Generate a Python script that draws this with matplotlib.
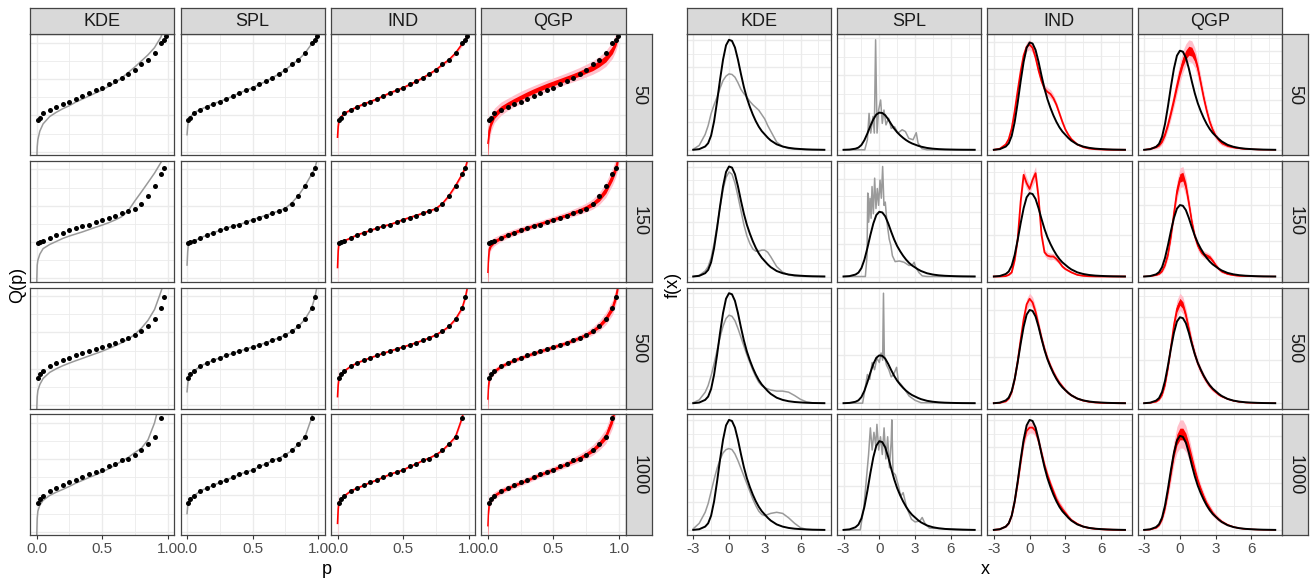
import matplotlib
matplotlib.use("Agg")
import matplotlib.pyplot as plt
from matplotlib.ticker import FixedLocator, MaxNLocator, AutoMinorLocator

plt.rcParams['font.family'] = ['Liberation Sans', 'DejaVu Sans']

ROWS = ['50', '150', '500', '1000']
METHODS = ['KDE', 'SPL', 'IND', 'QGP']

# ---------------- quantile panels (left) ----------------
P_DOTS = [0.01, 0.025, 0.05, 0.1, 0.15, 0.2, 0.25, 0.3, 0.35, 0.4, 0.45, 0.5,
          0.55, 0.6, 0.65, 0.7, 0.75, 0.8, 0.85, 0.9, 0.95, 0.975, 0.99]
P_LINE = [0.0, 0.005] + P_DOTS + [1.0]

DOT_Q_50 = [0.29, 0.31, 0.35, 0.375, 0.40, 0.427, 0.443, 0.463, 0.49, 0.517, 0.537, 0.556,
            0.586, 0.61, 0.642, 0.674, 0.708, 0.752, 0.79, 0.845, 0.925, 0.952, 0.982]
DOT_Q_150 = [0.322, 0.33, 0.336, 0.363, 0.391, 0.407, 0.426, 0.445, 0.462, 0.473, 0.494, 0.516,
             0.533, 0.549, 0.568, 0.587, 0.604, 0.645, 0.713, 0.795, 0.891, 0.94, 1.05]
DOT_Q_500 = [0.25, 0.285, 0.31, 0.35, 0.378, 0.4, 0.42, 0.44, 0.458, 0.476, 0.493, 0.51,
             0.527, 0.545, 0.565, 0.585, 0.61, 0.64, 0.68, 0.74, 0.83, 0.92, 1.05]
DOT_Q_1000 = [0.27, 0.303, 0.325, 0.366, 0.391, 0.413, 0.438, 0.457, 0.479, 0.507, 0.523, 0.54,
              0.57, 0.59, 0.623, 0.634, 0.667, 0.702, 0.758, 0.813, 0.972, 1.1, 1.25]

KDE_Q_50 = [-0.1, 0.07, 0.13, 0.2, 0.26, 0.32, 0.355, 0.385, 0.41, 0.44, 0.465, 0.49, 0.515,
            0.54, 0.57, 0.6, 0.64, 0.685, 0.73, 0.78, 0.83, 0.89, 0.98, 1.08, 1.15, 1.3]
KDE_Q_150 = [-0.05, 0.14, 0.18, 0.23, 0.276, 0.31, 0.335, 0.36, 0.38, 0.397, 0.414, 0.433, 0.452,
             0.47, 0.49, 0.513, 0.54, 0.59, 0.67, 0.745, 0.822, 0.9, 0.99, 1.04, 1.08, 1.15]
KDE_Q_500 = [-0.05, 0.1, 0.15, 0.2, 0.25, 0.3, 0.33, 0.355, 0.377, 0.397, 0.416, 0.436, 0.455,
             0.475, 0.497, 0.52, 0.545, 0.575, 0.615, 0.665, 0.73, 0.82, 0.97, 1.06, 1.12, 1.2]
KDE_Q_1000 = [-0.05, 0.14, 0.2, 0.25, 0.29, 0.33, 0.357, 0.38, 0.405, 0.432, 0.455, 0.478, 0.5,
              0.525, 0.55, 0.58, 0.615, 0.645, 0.685, 0.72, 0.79, 0.93, 1.15, 1.3, 1.4, 1.5]

SPL_Q_50 = [0.17, 0.24, 0.285, 0.315, 0.35, 0.378, 0.402, 0.425, 0.445, 0.465, 0.49, 0.515, 0.537,
            0.558, 0.585, 0.61, 0.64, 0.672, 0.706, 0.75, 0.79, 0.845, 0.92, 0.955, 0.985, 1.01]
SPL_Q_150 = [0.14, 0.25, 0.31, 0.33, 0.338, 0.362, 0.388, 0.407, 0.426, 0.445, 0.462, 0.475, 0.494,
             0.515, 0.533, 0.55, 0.568, 0.587, 0.61, 0.655, 0.715, 0.795, 0.89, 0.94, 1.0, 1.05]
SPL_Q_500 = [0.14, 0.2, 0.245, 0.285, 0.31, 0.35, 0.378, 0.4, 0.42, 0.44, 0.458, 0.476, 0.493,
             0.51, 0.527, 0.545, 0.565, 0.585, 0.61, 0.64, 0.68, 0.74, 0.83, 0.92, 1.0, 1.05]
SPL_Q_1000 = [0.18, 0.24, 0.27, 0.303, 0.325, 0.366, 0.391, 0.413, 0.438, 0.457, 0.48, 0.505, 0.523,
              0.54, 0.568, 0.59, 0.618, 0.638, 0.667, 0.702, 0.755, 0.815, 0.97, 1.1, 1.25, 1.35]

IND_Q_50 = [0.15, 0.24, 0.28, 0.315, 0.345, 0.375, 0.4, 0.424, 0.444, 0.465, 0.49, 0.516, 0.537,
            0.558, 0.585, 0.61, 0.64, 0.672, 0.706, 0.75, 0.79, 0.845, 0.92, 0.955, 0.985, 1.02]
IND_Q_150 = [0.12, 0.26, 0.315, 0.33, 0.34, 0.363, 0.39, 0.407, 0.426, 0.445, 0.462, 0.475, 0.494,
             0.515, 0.533, 0.55, 0.568, 0.587, 0.606, 0.648, 0.713, 0.795, 0.89, 0.945, 1.0, 1.06]
IND_Q_500 = [0.1, 0.2, 0.245, 0.285, 0.31, 0.35, 0.378, 0.4, 0.42, 0.44, 0.458, 0.476, 0.493,
             0.51, 0.527, 0.545, 0.565, 0.585, 0.61, 0.64, 0.68, 0.74, 0.83, 0.92, 1.0, 1.06]
IND_Q_1000 = [0.1, 0.22, 0.27, 0.303, 0.325, 0.366, 0.391, 0.413, 0.438, 0.457, 0.48, 0.505, 0.523,
              0.54, 0.568, 0.59, 0.618, 0.638, 0.667, 0.702, 0.755, 0.815, 0.97, 1.1, 1.25, 1.35]

# band half widths
IND_QW_50 = [0.3, 0.05, 0.025, 0.015, 0.012, 0.01, 0.01, 0.01, 0.01, 0.01, 0.01, 0.01, 0.01,
             0.01, 0.01, 0.01, 0.01, 0.01, 0.012, 0.012, 0.015, 0.015, 0.02, 0.02, 0.025, 0.03]
IND_QW_150 = [0.3, 0.05, 0.02, 0.012, 0.01, 0.008, 0.008, 0.008, 0.008, 0.008, 0.008, 0.008, 0.008,
              0.008, 0.008, 0.008, 0.008, 0.01, 0.01, 0.012, 0.014, 0.016, 0.02, 0.025, 0.03, 0.035]
IND_QW_500 = [0.3, 0.05, 0.02, 0.012, 0.008, 0.006, 0.006, 0.006, 0.006, 0.006, 0.006, 0.006, 0.006,
              0.006, 0.006, 0.006, 0.006, 0.007, 0.008, 0.01, 0.012, 0.015, 0.02, 0.025, 0.03, 0.035]
IND_QW_1000 = [0.3, 0.05, 0.02, 0.012, 0.008, 0.006, 0.006, 0.006, 0.006, 0.006, 0.006, 0.006, 0.006,
               0.006, 0.006, 0.006, 0.006, 0.007, 0.008, 0.01, 0.012, 0.016, 0.022, 0.028, 0.035, 0.04]

QGP_Q_50 = [0.1, 0.14, 0.2, 0.27, 0.33, 0.385, 0.42, 0.45, 0.478, 0.505, 0.53, 0.553, 0.575,
            0.595, 0.615, 0.635, 0.655, 0.676, 0.7, 0.725, 0.757, 0.8, 0.87, 0.93, 0.98, 1.05]
QGP_Q_150 = [0.08, 0.2, 0.27, 0.31, 0.335, 0.365, 0.39, 0.41, 0.43, 0.448, 0.466, 0.483, 0.5,
             0.518, 0.535, 0.553, 0.572, 0.592, 0.615, 0.645, 0.69, 0.76, 0.87, 0.94, 1.0, 1.1]
QGP_Q_500 = [0.08, 0.19, 0.24, 0.28, 0.31, 0.35, 0.377, 0.4, 0.42, 0.44, 0.458, 0.476, 0.493,
             0.51, 0.527, 0.545, 0.565, 0.587, 0.612, 0.643, 0.685, 0.745, 0.835, 0.92, 1.0, 1.08]
QGP_Q_1000 = [0.08, 0.2, 0.26, 0.3, 0.33, 0.365, 0.39, 0.413, 0.435, 0.457, 0.48, 0.503, 0.524,
              0.545, 0.568, 0.59, 0.615, 0.64, 0.67, 0.705, 0.755, 0.82, 0.96, 1.08, 1.2, 1.3]

QGP_QO_50 = [0.35, 0.1, 0.08, 0.07, 0.06, 0.055, 0.05, 0.05, 0.05, 0.048, 0.046, 0.045, 0.045,
             0.045, 0.045, 0.046, 0.048, 0.05, 0.052, 0.055, 0.06, 0.065, 0.07, 0.07, 0.07, 0.07]
QGP_QI_50 = [0.15, 0.05, 0.04, 0.03, 0.025, 0.022, 0.02, 0.02, 0.02, 0.02, 0.02, 0.02, 0.02,
             0.02, 0.02, 0.02, 0.02, 0.022, 0.022, 0.025, 0.025, 0.028, 0.03, 0.03, 0.03, 0.03]
QGP_QO_150 = [0.3, 0.08, 0.05, 0.04, 0.035, 0.03, 0.028, 0.027, 0.026, 0.025, 0.025, 0.025, 0.025,
              0.025, 0.026, 0.027, 0.03, 0.033, 0.037, 0.042, 0.05, 0.06, 0.07, 0.075, 0.08, 0.085]
QGP_QI_150 = [0.12, 0.04, 0.022, 0.018, 0.015, 0.013, 0.012, 0.012, 0.012, 0.011, 0.011, 0.011, 0.011,
              0.011, 0.012, 0.012, 0.013, 0.015, 0.017, 0.019, 0.022, 0.027, 0.032, 0.034, 0.036, 0.04]
QGP_QO_500 = [0.3, 0.07, 0.04, 0.03, 0.025, 0.022, 0.02, 0.02, 0.02, 0.02, 0.02, 0.02, 0.02,
              0.02, 0.02, 0.021, 0.022, 0.024, 0.027, 0.032, 0.04, 0.05, 0.06, 0.065, 0.07, 0.075]
QGP_QI_500 = [0.12, 0.03, 0.018, 0.014, 0.011, 0.01, 0.009, 0.009, 0.009, 0.009, 0.009, 0.009, 0.009,
              0.009, 0.009, 0.01, 0.01, 0.011, 0.012, 0.014, 0.018, 0.022, 0.027, 0.03, 0.032, 0.035]
QGP_QO_1000 = [0.3, 0.07, 0.045, 0.035, 0.03, 0.027, 0.025, 0.025, 0.025, 0.025, 0.025, 0.025, 0.025,
               0.025, 0.026, 0.027, 0.029, 0.032, 0.036, 0.042, 0.05, 0.06, 0.075, 0.085, 0.09, 0.1]
QGP_QI_1000 = [0.12, 0.03, 0.02, 0.015, 0.012, 0.011, 0.01, 0.01, 0.01, 0.01, 0.01, 0.01, 0.01,
               0.01, 0.011, 0.011, 0.012, 0.013, 0.015, 0.018, 0.021, 0.026, 0.033, 0.037, 0.04, 0.045]

# ---------------- density panels (right) ----------------
# heights relative to the peak of the true density
X_GRID = [-3, -2.5, -2, -1.75, -1.5, -1.25, -1, -0.75, -0.5, -0.25, 0, 0.25, 0.5, 0.75, 1, 1.25,
          1.5, 1.75, 2, 2.25, 2.5, 2.75, 3, 3.25, 3.5, 4, 4.5, 5, 5.5, 6, 6.5, 7, 7.5, 8]
TRUE_F = [0.0, 0.006, 0.03, 0.06, 0.13, 0.26, 0.44, 0.64, 0.82, 0.95, 1.0, 0.99, 0.93, 0.82, 0.69, 0.57,
          0.47, 0.39, 0.32, 0.26, 0.21, 0.17, 0.14, 0.11, 0.085, 0.05, 0.03, 0.018, 0.011, 0.007, 0.004,
          0.002, 0.001, 0.0]

KDE_F_50 = [0.005, 0.04, 0.14, 0.22, 0.33, 0.41, 0.48, 0.56, 0.63, 0.67, 0.69, 0.685, 0.66, 0.61, 0.55,
            0.51, 0.48, 0.44, 0.41, 0.385, 0.36, 0.32, 0.28, 0.22, 0.17, 0.07, 0.03, 0.012, 0.006, 0.003,
            0.001, 0, 0, 0]
KDE_F_150 = [0.0, 0.01, 0.05, 0.09, 0.17, 0.3, 0.46, 0.63, 0.79, 0.9, 0.95, 0.93, 0.85, 0.73, 0.6,
             0.47, 0.37, 0.3, 0.25, 0.23, 0.23, 0.24, 0.24, 0.22, 0.18, 0.09, 0.04, 0.015, 0.005, 0.002,
             0, 0, 0, 0]
KDE_F_500 = [0.005, 0.03, 0.1, 0.16, 0.25, 0.36, 0.48, 0.6, 0.7, 0.77, 0.8, 0.79, 0.75, 0.68, 0.6,
             0.52, 0.44, 0.37, 0.3, 0.24, 0.19, 0.16, 0.14, 0.13, 0.12, 0.11, 0.11, 0.1, 0.07, 0.035,
             0.012, 0.004, 0.001, 0]
KDE_F_1000 = [0.01, 0.06, 0.16, 0.24, 0.35, 0.46, 0.56, 0.64, 0.7, 0.73, 0.74, 0.73, 0.69, 0.63, 0.56,
              0.49, 0.42, 0.35, 0.28, 0.22, 0.17, 0.14, 0.13, 0.14, 0.15, 0.16, 0.15, 0.11, 0.06, 0.02,
              0.005, 0.001, 0, 0]

SPL_X_50 = [-3, -1.22, -1.0, -0.86, -0.72, -0.53, -0.42, -0.31, -0.19, -0.06, 0.11, 0.25, 0.39, 0.56,
            0.78, 1.0, 1.28, 1.56, 1.92, 2.19, 2.47, 2.83, 3.1, 3.25, 3.58, 4.0, 8.0]
SPL_Y_50 = [0, 0, 0.27, 0.98, 0.45, 0.9, 0.45, 2.96, 0.45, 1.07, 1.34, 0.71, 1.07, 0.67,
            0.85, 0.58, 0.62, 0.45, 0.54, 0.49, 0.31, 0.27, 0.46, 0.18, 0.03, 0, 0]
SPL_X_150 = [-3, -1.17, -1.03, -0.97, -0.89, -0.78, -0.69, -0.61, -0.5, -0.39, -0.28, -0.17, -0.06,
             0.06, 0.17, 0.28, 0.39, 0.5, 0.64, 0.83, 0.97, 1.1, 1.33, 1.67, 2.08, 2.5, 2.78, 2.92,
             3.06, 3.33, 3.6, 4, 8]
SPL_Y_150 = [0, 0, 0.32, 1.29, 0.84, 1.21, 0.9, 1.39, 0.97, 1.52, 1.05, 1.36, 1.1,
             1.49, 1.21, 1.7, 1.1, 1.15, 0.84, 0.58, 0.48, 0.32, 0.23, 0.24, 0.22, 0.17, 0.18, 0.22,
             0.14, 0.06, 0.01, 0, 0]
SPL_X_500 = [-3, -1.4, -1.2, -1.0, -0.8, -0.6, -0.4, -0.2, 0.0, 0.15, 0.28, 0.35, 0.42, 0.6, 0.8,
             1.0, 1.2, 1.45, 1.6, 1.8, 2.1, 2.5, 3.0, 3.5, 8]
SPL_Y_500 = [0, 0, 0.3, 0.6, 0.5, 0.85, 0.7, 0.95, 0.85, 1.05, 0.9, 2.3, 1.0, 0.8, 0.7,
             0.55, 0.6, 0.75, 0.45, 0.4, 0.3, 0.15, 0.06, 0.01, 0]
SPL_X_1000 = [-3, -1.6, -1.3, -1.1, -0.9, -0.75, -0.6, -0.45, -0.3, -0.2, -0.05, 0.1, 0.25, 0.4, 0.55,
              0.7, 0.85, 1.0, 1.05, 1.15, 1.35, 1.6, 1.8, 2.0, 2.3, 2.7, 3.0, 3.4, 3.6, 3.8, 4.2, 8]
SPL_Y_1000 = [0, 0, 0.25, 0.55, 0.85, 1.15, 0.9, 1.1, 0.95, 1.19, 0.9, 1.05, 0.85, 1.15, 0.8,
              1.05, 0.7, 1.0, 1.24, 0.65, 0.62, 0.5, 0.38, 0.42, 0.25, 0.12, 0.09, 0.1, 0.14, 0.08, 0.02, 0]

IND_F_50 = [0, 0.01, 0.05, 0.1, 0.2, 0.36, 0.55, 0.73, 0.88, 0.96, 0.98, 0.95, 0.86, 0.74, 0.64, 0.57,
            0.54, 0.52, 0.48, 0.42, 0.34, 0.26, 0.19, 0.14, 0.1, 0.05, 0.025, 0.012, 0.006, 0.003,
            0.001, 0, 0, 0]
IND_F_150 = [0, 0, 0.005, 0.02, 0.05, 0.2, 0.45, 0.9, 1.22, 1.12, 1.05, 1.16, 1.24, 0.95, 0.5, 0.29,
             0.25, 0.24, 0.24, 0.21, 0.17, 0.12, 0.09, 0.07, 0.05, 0.02, 0.008, 0.003, 0.001, 0,
             0, 0, 0, 0]
IND_F_500 = [0, 0.004, 0.02, 0.05, 0.12, 0.26, 0.45, 0.68, 0.9, 1.06, 1.12, 1.08, 0.98, 0.84, 0.7, 0.58,
             0.48, 0.4, 0.33, 0.27, 0.22, 0.18, 0.14, 0.11, 0.085, 0.05, 0.028, 0.015, 0.008, 0.004,
             0.002, 0.001, 0, 0]
IND_F_1000 = [0, 0.006, 0.03, 0.06, 0.13, 0.26, 0.43, 0.62, 0.8, 0.9, 0.93, 0.93, 0.9, 0.81, 0.7, 0.59,
              0.5, 0.42, 0.35, 0.28, 0.23, 0.19, 0.155, 0.12, 0.09, 0.055, 0.03, 0.017, 0.01, 0.006,
              0.003, 0.001, 0, 0]

IND_FW_50 = [0, 0.005, 0.01, 0.015, 0.02, 0.025, 0.03, 0.035, 0.04, 0.045, 0.045, 0.045, 0.04, 0.035,
             0.035, 0.035, 0.04, 0.04, 0.035, 0.03, 0.025, 0.02, 0.015, 0.012, 0.01, 0.007, 0.005,
             0.003, 0.002, 0.001, 0, 0, 0, 0]
IND_FW_150 = [0, 0, 0.003, 0.008, 0.015, 0.03, 0.05, 0.07, 0.08, 0.07, 0.06, 0.07, 0.08, 0.07, 0.05,
              0.04, 0.04, 0.04, 0.035, 0.03, 0.025, 0.02, 0.015, 0.012, 0.01, 0.006, 0.003, 0.002,
              0.001, 0, 0, 0, 0, 0]
IND_FW_500 = [0, 0.003, 0.008, 0.012, 0.02, 0.03, 0.04, 0.05, 0.055, 0.06, 0.06, 0.06, 0.055, 0.05,
              0.045, 0.04, 0.035, 0.03, 0.03, 0.03, 0.025, 0.02, 0.018, 0.015, 0.012, 0.008, 0.005,
              0.003, 0.002, 0.001, 0, 0, 0, 0]
IND_FW_1000 = [0, 0.003, 0.008, 0.012, 0.02, 0.03, 0.04, 0.045, 0.05, 0.05, 0.05, 0.05, 0.05, 0.045,
               0.04, 0.035, 0.03, 0.03, 0.03, 0.035, 0.035, 0.03, 0.025, 0.02, 0.015, 0.01, 0.006,
               0.003, 0.002, 0.001, 0, 0, 0, 0]

QGP_F_50 = [0, 0.01, 0.03, 0.05, 0.09, 0.16, 0.26, 0.38, 0.51, 0.65, 0.78, 0.89, 0.96, 1.0, 0.99, 0.93,
            0.82, 0.67, 0.52, 0.39, 0.28, 0.2, 0.14, 0.1, 0.07, 0.04, 0.025, 0.015, 0.009, 0.005,
            0.003, 0.001, 0, 0]
QGP_F_150 = [0, 0.005, 0.02, 0.04, 0.08, 0.17, 0.32, 0.58, 0.9, 1.2, 1.38, 1.4, 1.26, 1.02, 0.76, 0.56,
             0.43, 0.35, 0.31, 0.29, 0.27, 0.22, 0.16, 0.11, 0.07, 0.035, 0.017, 0.008, 0.004, 0.002,
             0.001, 0, 0, 0]
QGP_F_500 = [0, 0.004, 0.02, 0.045, 0.1, 0.22, 0.42, 0.67, 0.92, 1.1, 1.18, 1.14, 1.02, 0.86, 0.7, 0.57,
             0.46, 0.38, 0.31, 0.25, 0.2, 0.16, 0.13, 0.1, 0.08, 0.05, 0.028, 0.015, 0.008, 0.004,
             0.002, 0.001, 0, 0]
QGP_F_1000 = [0, 0.005, 0.025, 0.055, 0.12, 0.24, 0.42, 0.62, 0.82, 0.96, 1.02, 1.02, 0.97, 0.87, 0.75,
              0.63, 0.52, 0.43, 0.35, 0.28, 0.23, 0.18, 0.145, 0.115, 0.09, 0.055, 0.032, 0.018, 0.01,
              0.006, 0.003, 0.001, 0, 0]

QGP_FO_50 = [0, 0.01, 0.02, 0.03, 0.04, 0.05, 0.06, 0.07, 0.08, 0.09, 0.1, 0.11, 0.11, 0.11, 0.11, 0.1,
             0.09, 0.08, 0.07, 0.06, 0.05, 0.04, 0.035, 0.03, 0.025, 0.018, 0.012, 0.008, 0.005, 0.003,
             0.002, 0.001, 0, 0]
QGP_FI_50 = [0, 0.004, 0.008, 0.012, 0.016, 0.02, 0.024, 0.028, 0.032, 0.036, 0.04, 0.045, 0.045, 0.045,
             0.045, 0.04, 0.036, 0.032, 0.028, 0.024, 0.02, 0.016, 0.014, 0.012, 0.01, 0.007, 0.005,
             0.003, 0.002, 0.001, 0.001, 0, 0, 0]
QGP_FO_150 = [0, 0.005, 0.01, 0.02, 0.03, 0.05, 0.07, 0.09, 0.11, 0.13, 0.14, 0.14, 0.13, 0.11, 0.09,
              0.07, 0.06, 0.05, 0.05, 0.05, 0.045, 0.04, 0.035, 0.03, 0.02, 0.012, 0.007, 0.004, 0.002,
              0.001, 0, 0, 0, 0]
QGP_FI_150 = [0, 0.002, 0.004, 0.008, 0.012, 0.02, 0.03, 0.04, 0.05, 0.055, 0.06, 0.06, 0.055, 0.05,
              0.04, 0.03, 0.026, 0.024, 0.024, 0.024, 0.022, 0.02, 0.016, 0.012, 0.009, 0.005, 0.003,
              0.002, 0.001, 0, 0, 0, 0, 0]
QGP_FO_500 = [0, 0.004, 0.01, 0.015, 0.025, 0.04, 0.055, 0.07, 0.085, 0.1, 0.1, 0.1, 0.09, 0.08, 0.07,
              0.06, 0.05, 0.045, 0.04, 0.035, 0.03, 0.025, 0.02, 0.017, 0.014, 0.01, 0.006, 0.004,
              0.002, 0.001, 0, 0, 0, 0]
QGP_FI_500 = [0, 0.002, 0.004, 0.006, 0.01, 0.016, 0.022, 0.028, 0.034, 0.04, 0.04, 0.04, 0.036, 0.032,
              0.028, 0.024, 0.02, 0.018, 0.016, 0.014, 0.012, 0.01, 0.008, 0.007, 0.006, 0.004, 0.002,
              0.001, 0.001, 0, 0, 0, 0, 0]
QGP_FO_1000 = [0, 0.005, 0.012, 0.02, 0.035, 0.055, 0.08, 0.1, 0.12, 0.14, 0.15, 0.15, 0.14, 0.12, 0.1,
               0.08, 0.065, 0.055, 0.05, 0.045, 0.04, 0.035, 0.03, 0.025, 0.02, 0.013, 0.008, 0.005,
               0.003, 0.001, 0, 0, 0, 0]
QGP_FI_1000 = [0, 0.002, 0.005, 0.008, 0.014, 0.022, 0.032, 0.042, 0.05, 0.058, 0.062, 0.062, 0.058,
               0.05, 0.042, 0.034, 0.028, 0.024, 0.021, 0.019, 0.017, 0.015, 0.013, 0.011, 0.009, 0.006,
               0.004, 0.002, 0.001, 0, 0, 0, 0, 0]

DOT_Q = dict(zip(ROWS, [DOT_Q_50, DOT_Q_150, DOT_Q_500, DOT_Q_1000]))
KDE_Q = dict(zip(ROWS, [KDE_Q_50, KDE_Q_150, KDE_Q_500, KDE_Q_1000]))
SPL_Q = dict(zip(ROWS, [SPL_Q_50, SPL_Q_150, SPL_Q_500, SPL_Q_1000]))
IND_Q = dict(zip(ROWS, [IND_Q_50, IND_Q_150, IND_Q_500, IND_Q_1000]))
IND_QW = dict(zip(ROWS, [IND_QW_50, IND_QW_150, IND_QW_500, IND_QW_1000]))
QGP_Q = dict(zip(ROWS, [QGP_Q_50, QGP_Q_150, QGP_Q_500, QGP_Q_1000]))
QGP_QO = dict(zip(ROWS, [QGP_QO_50, QGP_QO_150, QGP_QO_500, QGP_QO_1000]))
QGP_QI = dict(zip(ROWS, [QGP_QI_50, QGP_QI_150, QGP_QI_500, QGP_QI_1000]))
KDE_F = dict(zip(ROWS, [KDE_F_50, KDE_F_150, KDE_F_500, KDE_F_1000]))
SPL_X = dict(zip(ROWS, [SPL_X_50, SPL_X_150, SPL_X_500, SPL_X_1000]))
SPL_Y = dict(zip(ROWS, [SPL_Y_50, SPL_Y_150, SPL_Y_500, SPL_Y_1000]))
IND_F = dict(zip(ROWS, [IND_F_50, IND_F_150, IND_F_500, IND_F_1000]))
IND_FW = dict(zip(ROWS, [IND_FW_50, IND_FW_150, IND_FW_500, IND_FW_1000]))
QGP_F = dict(zip(ROWS, [QGP_F_50, QGP_F_150, QGP_F_500, QGP_F_1000]))
QGP_FO = dict(zip(ROWS, [QGP_FO_50, QGP_FO_150, QGP_FO_500, QGP_FO_1000]))
QGP_FI = dict(zip(ROWS, [QGP_FI_50, QGP_FI_150, QGP_FI_500, QGP_FI_1000]))

# ---------------- layout (pixels) ----------------
W, H = 1314, 582
fig = plt.figure(figsize=(W / 100, H / 100), dpi=100)

LEFT_X = [30, 180.5, 331, 481.3]
RIGHT_X = [686.7, 837, 987.3, 1137.6]
PANEL_W = 144.2
ROW_Y = [34.3, 161, 287.7, 414.4]
PANEL_H = 121
STRIP_H = 26
BORDER = '#444444'
GRID = '#ebebeb'
GREY_LINE = '#9a9a9a'
PINK = '#ffc0cb'


def px_axes(x, y, w, h):
    return fig.add_axes([x / W, 1 - (y + h) / H, w / W, h / H])


def style(ax, bottom):
    ax.set_facecolor('white')
    for s in ax.spines.values():
        s.set_color(BORDER)
        s.set_linewidth(0.9)
    ax.grid(True, which='major', color=GRID, linewidth=1.0)
    ax.grid(True, which='minor', color=GRID, linewidth=0.6)
    ax.set_axisbelow(True)
    ax.tick_params(axis='y', which='both', left=False, labelleft=False)
    ax.tick_params(axis='x', which='minor', bottom=False)
    if bottom:
        ax.tick_params(axis='x', which='major', length=3, width=0.8, color='#333333',
                       labelsize=11, labelcolor='#4d4d4d', pad=2)
    else:
        ax.tick_params(axis='x', which='major', bottom=False, labelbottom=False)


def strip(x, y, w, h, text, rot=0):
    s = px_axes(x, y, w, h)
    s.set_facecolor('#d9d9d9')
    s.set_xticks([])
    s.set_yticks([])
    for sp in s.spines.values():
        sp.set_color(BORDER)
        sp.set_linewidth(0.9)
    s.text(0.5, 0.5, text, transform=s.transAxes, ha='center', va='center',
           fontsize=13, color='#1a1a1a', rotation=rot)


# left grid: quantile functions
for i, row in enumerate(ROWS):
    for j, m in enumerate(METHODS):
        ax = px_axes(LEFT_X[j], ROW_Y[i], PANEL_W, PANEL_H)
        ax.set_xlim(-0.05, 1.05)
        ax.set_ylim(0, 1)
        ax.xaxis.set_major_locator(FixedLocator([0.0, 0.5, 1.0]))
        ax.xaxis.set_minor_locator(FixedLocator([0.25, 0.75]))
        ax.set_xticklabels(['0.0', '0.5', '1.0'])
        ax.yaxis.set_major_locator(FixedLocator([0.03, 0.33, 0.63, 0.93]))
        ax.yaxis.set_minor_locator(FixedLocator([0.18, 0.48, 0.78]))
        style(ax, i == len(ROWS) - 1)
        if m == 'KDE':
            ax.plot(P_LINE, KDE_Q[row], color=GREY_LINE, lw=1.1)
        elif m == 'SPL':
            ax.plot(P_LINE, SPL_Q[row], color=GREY_LINE, lw=1.1)
        elif m == 'IND':
            q = IND_Q[row]
            w = IND_QW[row]
            ax.fill_between(P_LINE, [a - b for a, b in zip(q, w)], [a + b for a, b in zip(q, w)],
                            color=PINK, lw=0)
            ax.plot(P_LINE, q, color='red', lw=1.2)
        else:
            q = QGP_Q[row]
            wo = QGP_QO[row]
            wi = QGP_QI[row]
            ax.fill_between(P_LINE, [a - b for a, b in zip(q, wo)], [a + b for a, b in zip(q, wo)],
                            color=PINK, lw=0)
            ax.fill_between(P_LINE, [a - b for a, b in zip(q, wi)], [a + b for a, b in zip(q, wi)],
                            color='red', lw=0)
            ax.plot(P_LINE, q, color='red', lw=1.0)
        ax.scatter(P_DOTS, DOT_Q[row], s=13, color='black', linewidths=0, zorder=4)

# right grid: densities
for i, row in enumerate(ROWS):
    for j, m in enumerate(METHODS):
        ax = px_axes(RIGHT_X[j], ROW_Y[i], PANEL_W, PANEL_H)
        ax.set_xlim(-3.55, 8.55)
        ax.xaxis.set_major_locator(FixedLocator([-3, 0, 3, 6]))
        ax.xaxis.set_minor_locator(FixedLocator([-1.5, 1.5, 4.5, 7.5]))
        ax.set_xticklabels(['-3', '0', '3', '6'])
        top = max(TRUE_F)
        if m == 'KDE':
            ax.plot(X_GRID, KDE_F[row], color=GREY_LINE, lw=1.1)
            top = max(top, max(KDE_F[row]))
        elif m == 'SPL':
            ax.plot(SPL_X[row], SPL_Y[row], color=GREY_LINE, lw=1.1)
            top = max(top, max(SPL_Y[row]))
        elif m == 'IND':
            f = IND_F[row]
            w = IND_FW[row]
            hi = [a + b for a, b in zip(f, w)]
            ax.fill_between(X_GRID, [a - b for a, b in zip(f, w)], hi, color=PINK, lw=0)
            ax.plot(X_GRID, f, color='red', lw=1.3)
            top = max(top, max(hi))
        else:
            f = QGP_F[row]
            wo = QGP_FO[row]
            wi = QGP_FI[row]
            hi = [a + b for a, b in zip(f, wo)]
            ax.fill_between(X_GRID, [a - b for a, b in zip(f, wo)], hi, color=PINK, lw=0)
            ax.fill_between(X_GRID, [a - b for a, b in zip(f, wi)], [a + b for a, b in zip(f, wi)],
                            color='red', lw=0)
            ax.plot(X_GRID, f, color='red', lw=1.0)
            top = max(top, max(hi))
        ax.plot(X_GRID, TRUE_F, color='black', lw=1.4, zorder=5)
        ax.set_ylim(-0.05 * top, 1.05 * top)
        ax.yaxis.set_major_locator(MaxNLocator(nbins=5, steps=[1, 2, 2.5, 5, 10]))
        ax.yaxis.set_minor_locator(AutoMinorLocator(2))
        style(ax, i == len(ROWS) - 1)

# strips
for j, m in enumerate(METHODS):
    strip(LEFT_X[j], ROW_Y[0] - STRIP_H, PANEL_W, STRIP_H, m)
    strip(RIGHT_X[j], ROW_Y[0] - STRIP_H, PANEL_W, STRIP_H, m)
for i, row in enumerate(ROWS):
    strip(LEFT_X[3] + PANEL_W, ROW_Y[i], 26.4, PANEL_H, row, rot=-90)
    strip(RIGHT_X[3] + PANEL_W, ROW_Y[i], 26.4, PANEL_H, row, rot=-90)

# axis titles
fig.text(18 / W, 1 - 285 / H, 'Q(p)', rotation=90, ha='center', va='center', fontsize=13)
fig.text(327 / W, 1 - 569 / H, 'p', ha='center', va='center', fontsize=13)
fig.text(673 / W, 1 - 285 / H, 'f(x)', rotation=90, ha='center', va='center', fontsize=13)
fig.text(985 / W, 1 - 569 / H, 'x', ha='center', va='center', fontsize=13)

fig.savefig('out.png', dpi=100, facecolor='white')
